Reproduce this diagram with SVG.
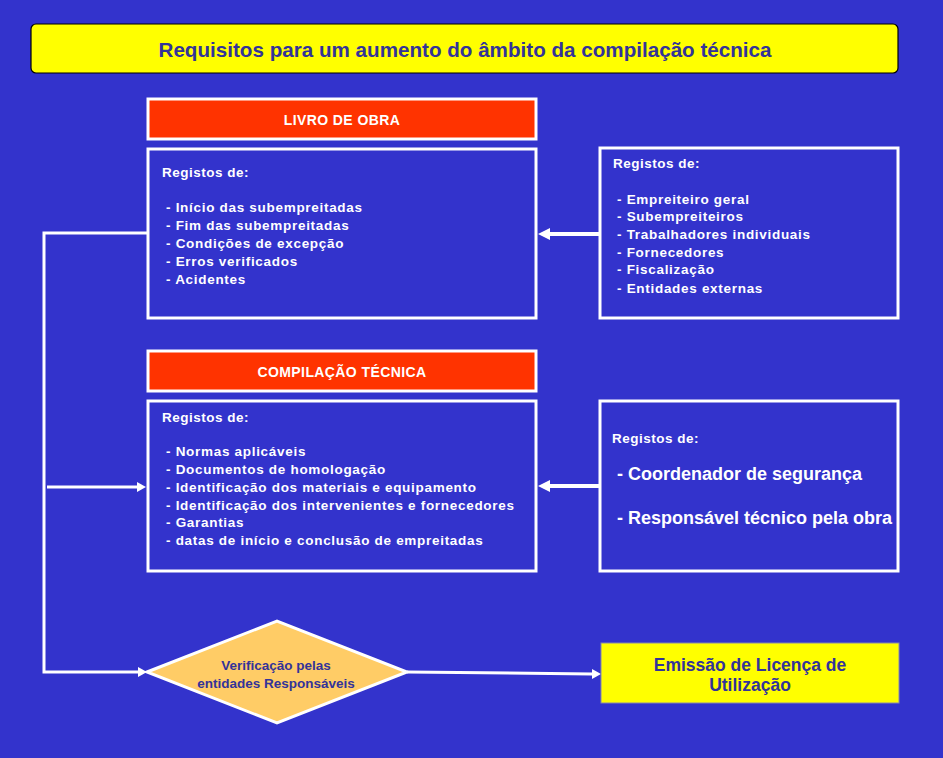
<svg xmlns="http://www.w3.org/2000/svg" width="943" height="758" viewBox="0 0 943 758">
<style>
.box{fill:none;stroke:#FFFFFF;stroke-width:3}
.hdr{fill:#FF3300;stroke:#FFFFFF;stroke-width:3}
.t{font-family:"Liberation Sans",Arial,sans-serif;font-weight:bold;fill:#FFFFFF}
.reg{font-size:13.5px;letter-spacing:0.5px}
.item{font-size:13.5px;letter-spacing:0.7px}
.big{font-size:18px}
.ht{font-size:14px;letter-spacing:0.4px}
.navy{font-family:"Liberation Sans",Arial,sans-serif;font-weight:bold;fill:#333399}
.wire{fill:none;stroke:#FFFFFF}
</style>
<defs>
<marker id="ahBig" viewBox="0 0 12 12" refX="0" refY="6" markerWidth="12" markerHeight="12" markerUnits="userSpaceOnUse" orient="auto">
<path d="M0,0 L12,6 L0,12 z" fill="#FFFFFF"/>
</marker>
<marker id="ahSmall" viewBox="0 0 9 10" refX="0" refY="5" markerWidth="9" markerHeight="10" markerUnits="userSpaceOnUse" orient="auto">
<path d="M0,0 L9,5 L0,10 z" fill="#FFFFFF"/>
</marker>
</defs>
<rect x="0" y="0" width="943" height="758" fill="#3333CC"/>

<g id="title">
<rect x="31" y="24" width="867" height="49" rx="5" ry="5" fill="#FFFF00" stroke="#000000" stroke-width="1.2"/>
<text class="navy" x="465" y="57" font-size="21" text-anchor="middle" textLength="613" lengthAdjust="spacingAndGlyphs">Requisitos para um aumento do âmbito da compilação técnica</text>
</g>

<g id="connectors">
<path class="wire" stroke-width="4" d="M600,234 H550" marker-end="url(#ahBig)"/>
<path class="wire" stroke-width="4" d="M600,486 H550" marker-end="url(#ahBig)"/>
<path class="wire" stroke-width="3" d="M148,233 H44 V672 H138" marker-end="url(#ahSmall)"/>
<path class="wire" stroke-width="3" d="M47,487 H137" marker-end="url(#ahSmall)"/>
<path class="wire" stroke-width="3" d="M407,672 L592,674" marker-end="url(#ahSmall)"/>
</g>

<g id="livro-header">
<rect class="hdr" x="148" y="99" width="388" height="40"/>
<text class="t ht" x="342" y="125" text-anchor="middle">LIVRO DE OBRA</text>
</g>

<g id="livro-box">
<rect class="box" x="148" y="149" width="388" height="169"/>
<text class="t reg" x="162" y="177">Registos de:</text>
<text class="t item" x="166" y="212">- Início das subempreitadas</text>
<text class="t item" x="166" y="230">- Fim das subempreitadas</text>
<text class="t item" x="166" y="248">- Condições de excepção</text>
<text class="t item" x="166" y="266">- Erros verificados</text>
<text class="t item" x="166" y="284">- Acidentes</text>
</g>

<g id="registos-1">
<rect class="box" x="600" y="148" width="298" height="170"/>
<text class="t reg" x="613" y="168">Registos de:</text>
<text class="t item" x="617" y="204">- Empreiteiro geral</text>
<text class="t item" x="617" y="221">- Subempreiteiros</text>
<text class="t item" x="617" y="239">- Trabalhadores individuais</text>
<text class="t item" x="617" y="257">- Fornecedores</text>
<text class="t item" x="617" y="274">- Fiscalização</text>
<text class="t item" x="617" y="293">- Entidades externas</text>
</g>

<g id="compilacao-header">
<rect class="hdr" x="148" y="351" width="388" height="40"/>
<text class="t ht" x="342" y="377" text-anchor="middle">COMPILAÇÃO TÉCNICA</text>
</g>

<g id="compilacao-box">
<rect class="box" x="148" y="401" width="388" height="170"/>
<text class="t reg" x="162" y="422">Registos de:</text>
<text class="t item" x="166" y="456">- Normas aplicáveis</text>
<text class="t item" x="166" y="474">- Documentos de homologação</text>
<text class="t item" x="166" y="492">- Identificação dos materiais e equipamento</text>
<text class="t item" x="166" y="510">- Identificação dos intervenientes e fornecedores</text>
<text class="t item" x="166" y="527">- Garantias</text>
<text class="t item" x="166" y="545">- datas de início e conclusão de empreitadas</text>
</g>

<g id="registos-2">
<rect class="box" x="600" y="401" width="298" height="170"/>
<text class="t reg" x="612" y="443">Registos de:</text>
<text class="t big" x="617" y="480">- Coordenador de segurança</text>
<text class="t big" x="617" y="524">- Responsável técnico pela obra</text>
</g>

<g id="verificacao">
<polygon points="147,672 277,621 407,672 277,723" fill="#FFCC66" stroke="#FFFFFF" stroke-width="3"/>
<text class="navy" x="276" y="670" font-size="13.5" text-anchor="middle">Verificação pelas</text>
<text class="navy" x="276" y="688" font-size="13.5" text-anchor="middle">entidades Responsáveis</text>
</g>

<g id="licenca">
<rect x="601" y="643" width="298" height="60" fill="#FFFF00" stroke="#8888AA" stroke-width="1"/>
<text class="navy" x="750" y="671" font-size="17.5" text-anchor="middle">Emissão de Licença de</text>
<text class="navy" x="750" y="691" font-size="17.5" text-anchor="middle">Utilização</text>
</g>
</svg>
